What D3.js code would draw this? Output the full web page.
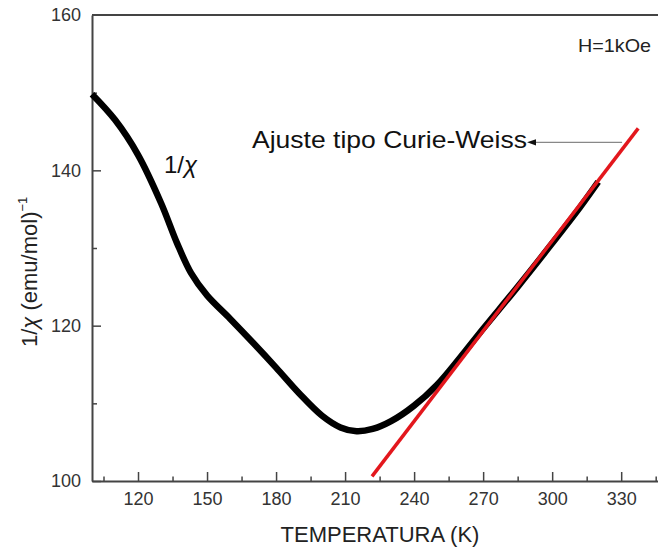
<!DOCTYPE html>
<html>
<head>
<meta charset="utf-8">
<script src="https://cdn.jsdelivr.net/npm/d3@7"></script>
<style>
  body { margin: 0; background: #fff; }
  svg { display: block; font-family: "Liberation Sans", Arial, sans-serif; }
</style>
</head>
<body>
<svg id="chart" width="658" height="550"></svg>
<script>
// ---- data ----
const temperature = [100, 110, 120, 130, 137, 143, 150, 160, 170, 180, 190, 200, 208, 215, 222, 230, 240, 250, 260, 270, 285, 300, 312, 320];
const invChi      = [149.8, 146.5, 142.0, 135.8, 130.6, 126.8, 123.9, 120.9, 117.8, 114.6, 111.3, 108.4, 106.9, 106.4, 106.7, 107.7, 109.7, 112.4, 115.9, 119.6, 125.0, 130.6, 135.2, 138.5];
const fitT = [221.7, 337.4];
const fitV = [100.6, 145.4];
const xMajorTicks = [120, 150, 180, 210, 240, 270, 300, 330];
const xMinorTicks = [105, 135, 165, 195, 225, 255, 285, 315, 345];
const yMajorTicks = [100, 120, 140, 160];
const yMinorTicks = [110, 130, 150];
const xDomain = [100, 346];
const yDomain = [100, 160];
const arrowFrom = [330.4, 143.6];
const arrowTo = [292.6, 143.6];

// ---- layout ----
const mLeft = 92, mRight = 658, mTop = 15, mBottom = 481;
const svg = d3.select("#chart");
const x = d3.scaleLinear().domain(xDomain).range([mLeft, mRight]);
const y = d3.scaleLinear().domain(yDomain).range([mBottom, mTop]);

const axisColor = "#444";

// minor ticks
svg.append("g").attr("transform", `translate(0,${mBottom})`)
  .call(d3.axisBottom(x).tickValues(xMinorTicks).tickSize(-4.5).tickFormat(""))
  .call(g => g.select(".domain").remove())
  .call(g => g.selectAll("line").attr("stroke", axisColor).attr("stroke-width", 1.5));
svg.append("g").attr("transform", `translate(${mLeft},0)`)
  .call(d3.axisLeft(y).tickValues(yMinorTicks).tickSize(-5).tickFormat(""))
  .call(g => g.select(".domain").remove())
  .call(g => g.selectAll("line").attr("stroke", axisColor).attr("stroke-width", 1.5));

// major axes
const xAxis = svg.append("g").attr("transform", `translate(0,${mBottom})`)
  .call(d3.axisBottom(x).tickValues(xMajorTicks).tickSize(-9).tickSizeOuter(0).tickPadding(11));
const yAxis = svg.append("g").attr("transform", `translate(${mLeft},0)`)
  .call(d3.axisLeft(y).tickValues(yMajorTicks).tickSize(-9).tickSizeOuter(0).tickPadding(11));
[xAxis, yAxis].forEach(g => {
  g.select(".domain").attr("stroke", axisColor).attr("stroke-width", 2);
  g.selectAll(".tick line").attr("stroke", axisColor).attr("stroke-width", 1.5);
  g.selectAll(".tick text").attr("fill", "#333").attr("font-size", 18)
    .attr("font-family", "Liberation Sans, Arial, sans-serif");
});
yAxis.selectAll(".tick").filter(d => d === 160).select("line").remove();

// top frame line
svg.append("line").attr("x1", mLeft).attr("x2", mRight).attr("y1", mTop).attr("y2", mTop)
  .attr("stroke", axisColor).attr("stroke-width", 2);

// data curve
const pts = temperature.map((t, i) => [t, invChi[i]]);
svg.append("path").datum(pts)
  .attr("fill", "none").attr("stroke", "#000").attr("stroke-width", 6.5)
  .attr("stroke-linecap", "butt").attr("stroke-linejoin", "round")
  .attr("d", d3.line().x(d => x(d[0])).y(d => y(d[1])).curve(d3.curveCatmullRom.alpha(0.5)));

// Curie-Weiss fit
svg.append("path").datum(fitT.map((t, i) => [t, fitV[i]]))
  .attr("fill", "none").attr("stroke", "#e3171d").attr("stroke-width", 3.5)
  .attr("d", d3.line().x(d => x(d[0])).y(d => y(d[1])));

// arrow
svg.append("defs").append("marker").attr("id", "ah")
  .attr("viewBox", "0 0 10 10").attr("refX", 1).attr("refY", 5)
  .attr("markerWidth", 9).attr("markerHeight", 9).attr("markerUnits", "userSpaceOnUse")
  .attr("orient", "auto")
  .append("path").attr("d", "M10,5 L0,1.5 L0,8.5 Z").attr("fill", "#111");
svg.append("line")
  .attr("x1", x(arrowFrom[0])).attr("y1", y(arrowFrom[1]))
  .attr("x2", x(arrowTo[0])).attr("y2", y(arrowTo[1]))
  .attr("stroke", "#888").attr("stroke-width", 1.3)
  .attr("marker-end", "url(#ah)");

// texts
svg.append("text").attr("x", 252).attr("y", 148)
  .attr("font-size", 24).attr("fill", "#111")
  .attr("textLength", 275).attr("lengthAdjust", "spacingAndGlyphs")
  .text("Ajuste tipo Curie-Weiss");

svg.append("text").attr("x", 578).attr("y", 52)
  .attr("font-size", 19).attr("fill", "#222")
  .attr("textLength", 73).attr("lengthAdjust", "spacingAndGlyphs")
  .text("H=1kOe");

const lbl = svg.append("text").attr("x", 164).attr("y", 173).attr("font-size", 24).attr("fill", "#111");
lbl.append("tspan").text("1/");
lbl.append("tspan").attr("font-style", "italic").text("χ");

svg.append("text").attr("x", 380).attr("y", 542).attr("text-anchor", "middle")
  .attr("font-size", 22).attr("fill", "#222")
  .text("TEMPERATURA (K)");

const yt = svg.append("text").attr("transform", "translate(37,347) rotate(-90)")
  .attr("font-size", 22).attr("fill", "#222");
yt.append("tspan").text("1/");
yt.append("tspan").attr("font-style", "italic").text("χ");
yt.append("tspan").text(" (emu/mol)");
yt.append("tspan").attr("font-size", 13).attr("dy", -10).text("−1");
</script>
</body>
</html>
